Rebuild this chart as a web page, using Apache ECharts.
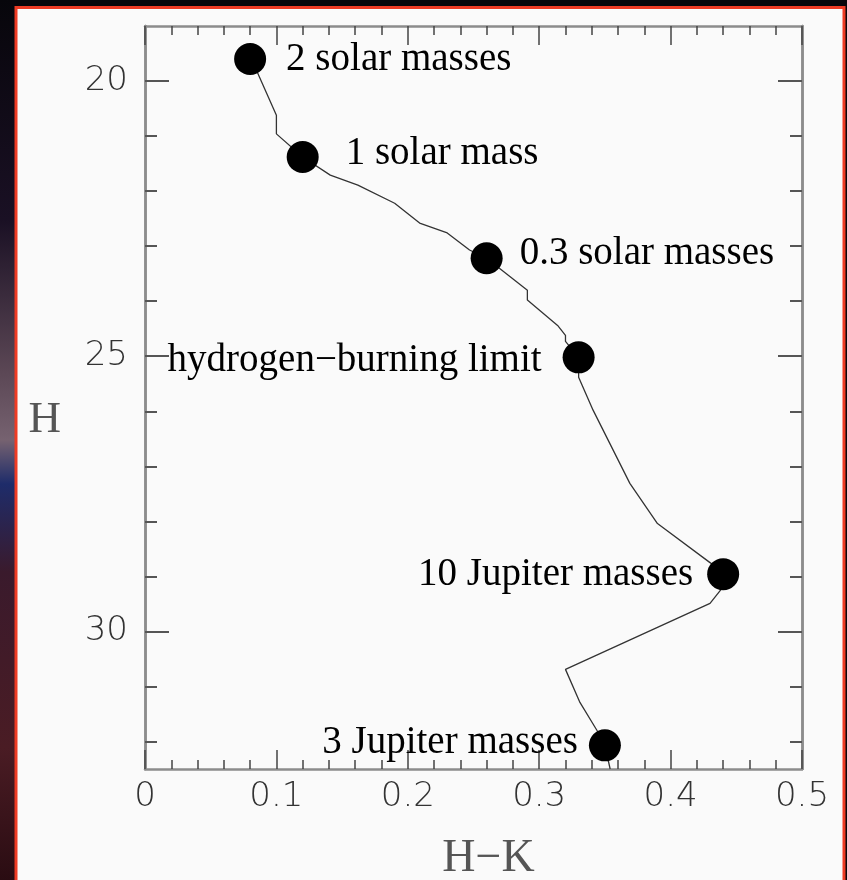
<!DOCTYPE html>
<html>
<head>
<meta charset="utf-8">
<title>H vs H-K</title>
<script src="https://cdn.jsdelivr.net/npm/echarts@6/dist/echarts.min.js"></script>
<style>
  html, body { margin: 0; padding: 0; background: #07060a; }
  #chart { width: 847px; height: 880px; }
</style>
</head>
<body>
<div id="chart"></div>
<script>
// evolutionary track (H-K, H)
const trackHK = [0.081, 0.100, 0.100, 0.120, 0.141, 0.162, 0.190, 0.209, 0.230, 0.247, 0.260,
  0.291, 0.291, 0.314, 0.320, 0.320, 0.330, 0.330, 0.341, 0.369, 0.390, 0.430, 0.440,
  0.438, 0.430, 0.320, 0.331, 0.344, 0.350, 0.354];
const trackH = [19.60, 20.62, 20.96, 21.38, 21.71, 21.89, 22.22, 22.58, 22.76, 23.07, 23.22,
  23.80, 23.98, 24.44, 24.62, 24.73, 25.02, 25.38, 25.98, 27.31, 28.04, 28.75, 28.96,
  29.25, 29.49, 30.69, 31.29, 31.80, 32.07, 32.50];

// marked masses
const massNames = ["2 solar masses", "1 solar mass", "0.3 solar masses",
  "hydrogen\u2212burning limit", "10 Jupiter masses", "3 Jupiter masses"];
const massHK = [0.08, 0.12, 0.26, 0.33, 0.44, 0.35];
const massH = [19.6, 21.38, 23.22, 25.02, 28.96, 32.07];

// ticks
const hMajor = [20, 25, 30];
const hMinor = [20, 21, 22, 23, 24, 25, 26, 27, 28, 29, 30, 31, 32];

const labelSide = ["right", "right", "right", "left", "left", "left"];
const labelDist = [20, 27, 17, 21, 14, 11];
const labelShift = [1, -3, -5, 3, 1, -3];

let myChart = echarts.init(document.getElementById("chart"));

const lineCol = "#8c8c8c";
const tickCol = "#444";
const tickFont = { color: "#333", fontSize: 34, fontFamily: "DejaVu Sans", fontWeight: 200 };

function xAxisOf(pos, showLabel) {
  return {
    type: "value", position: pos, min: 0, max: 0.5, interval: 0.1,
    axisLine: { show: true, onZero: false, lineStyle: { color: lineCol, width: 2.5 } },
    axisTick: { show: true, inside: true, length: 19, lineStyle: { color: tickCol, width: 1.5 } },
    minorTick: { show: true, splitNumber: 5, length: 9, lineStyle: { color: tickCol, width: 1.5 } },
    splitLine: { show: false },
    axisLabel: Object.assign({ show: showLabel, margin: 11,
      formatter: (v) => (v === 0 ? "0" : v.toFixed(1)) }, tickFont),
    name: showLabel ? "H\u2212K" : "",
    nameLocation: "middle",
    nameGap: 67,
    nameTextStyle: { fontFamily: "Liberation Serif", fontSize: 46, color: "#555", padding: [0, 0, 0, 30] },
  };
}

function yAxisOf(pos, values, len, showLabel, withName) {
  return {
    type: "value", position: pos, inverse: true, min: 19, max: 32.5,
    axisLine: { show: true, onZero: false, lineStyle: { color: lineCol, width: 2.5 } },
    axisTick: { show: true, inside: true, length: len, customValues: values,
      lineStyle: { color: "#555", width: 2 } },
    splitLine: { show: false },
    axisLabel: Object.assign({ show: showLabel, margin: 17, customValues: values }, tickFont),
    name: withName ? "H" : "",
    nameLocation: "middle",
    nameRotate: 0,
    nameGap: 84,
    nameTextStyle: { fontFamily: "Liberation Serif", fontSize: 45, color: "#555", verticalAlign: "top" },
  };
}

let trackData = trackHK.map((x, i) => [x, trackH[i]]);
let massData = massHK.map((x, i) => ({
  value: [x, massH[i]],
  label: { position: labelSide[i], distance: labelDist[i], offset: [0, labelShift[i]] },
}));

let option = {
  backgroundColor: "#07060a",
  animation: false,
  graphic: [
    {
      // 左侧星空条
      type: "rect", z: -20, silent: true,
      shape: { x: 0, y: 0, width: 16, height: 880 },
      style: {
        fill: new echarts.graphic.LinearGradient(0, 0, 0, 1, [
          { offset: 0, color: "#07060b" },
          { offset: 0.25, color: "#1a1024" },
          { offset: 0.42, color: "#5a4654" },
          { offset: 0.5, color: "#766270" },
          { offset: 0.55, color: "#1e2c6a" },
          { offset: 0.65, color: "#3a1a2c" },
          { offset: 0.85, color: "#4a1c24" },
          { offset: 1, color: "#2a0c12" },
        ]),
      },
    },
    {
      type: "rect", z: -10, silent: true,
      shape: { x: 16, y: 7.5, width: 828, height: 880 },
      style: { fill: "#fafafa", stroke: "#ee3b24", lineWidth: 3 },
    },
  ],
  grid: { left: 145, top: 26, width: 657, height: 743, containLabel: false, outerBoundsMode: "none" },
  xAxis: [xAxisOf("bottom", true), xAxisOf("top", false)],
  yAxis: [
    yAxisOf("left", hMajor, 24, true, true),
    yAxisOf("left", hMinor, 12, false, false),
    yAxisOf("right", hMajor, 24, false, false),
    yAxisOf("right", hMinor, 12, false, false),
  ],
  series: [
    {
      type: "line",
      data: trackData,
      showSymbol: false,
      symbol: "none",
      clip: true,
      lineStyle: { color: "#333", width: 1.3 },
      z: 2,
    },
    {
      type: "scatter",
      data: massData,
      symbol: "circle",
      symbolSize: 32,
      itemStyle: { color: "#000", opacity: 1 },
      label: {
        show: true,
        formatter: (p) => massNames[p.dataIndex],
        fontFamily: "Liberation Serif",
        fontSize: 39,
        color: "#000",
      },
      z: 3,
    },
  ],
};

myChart.setOption(option);
</script>
</body>
</html>
